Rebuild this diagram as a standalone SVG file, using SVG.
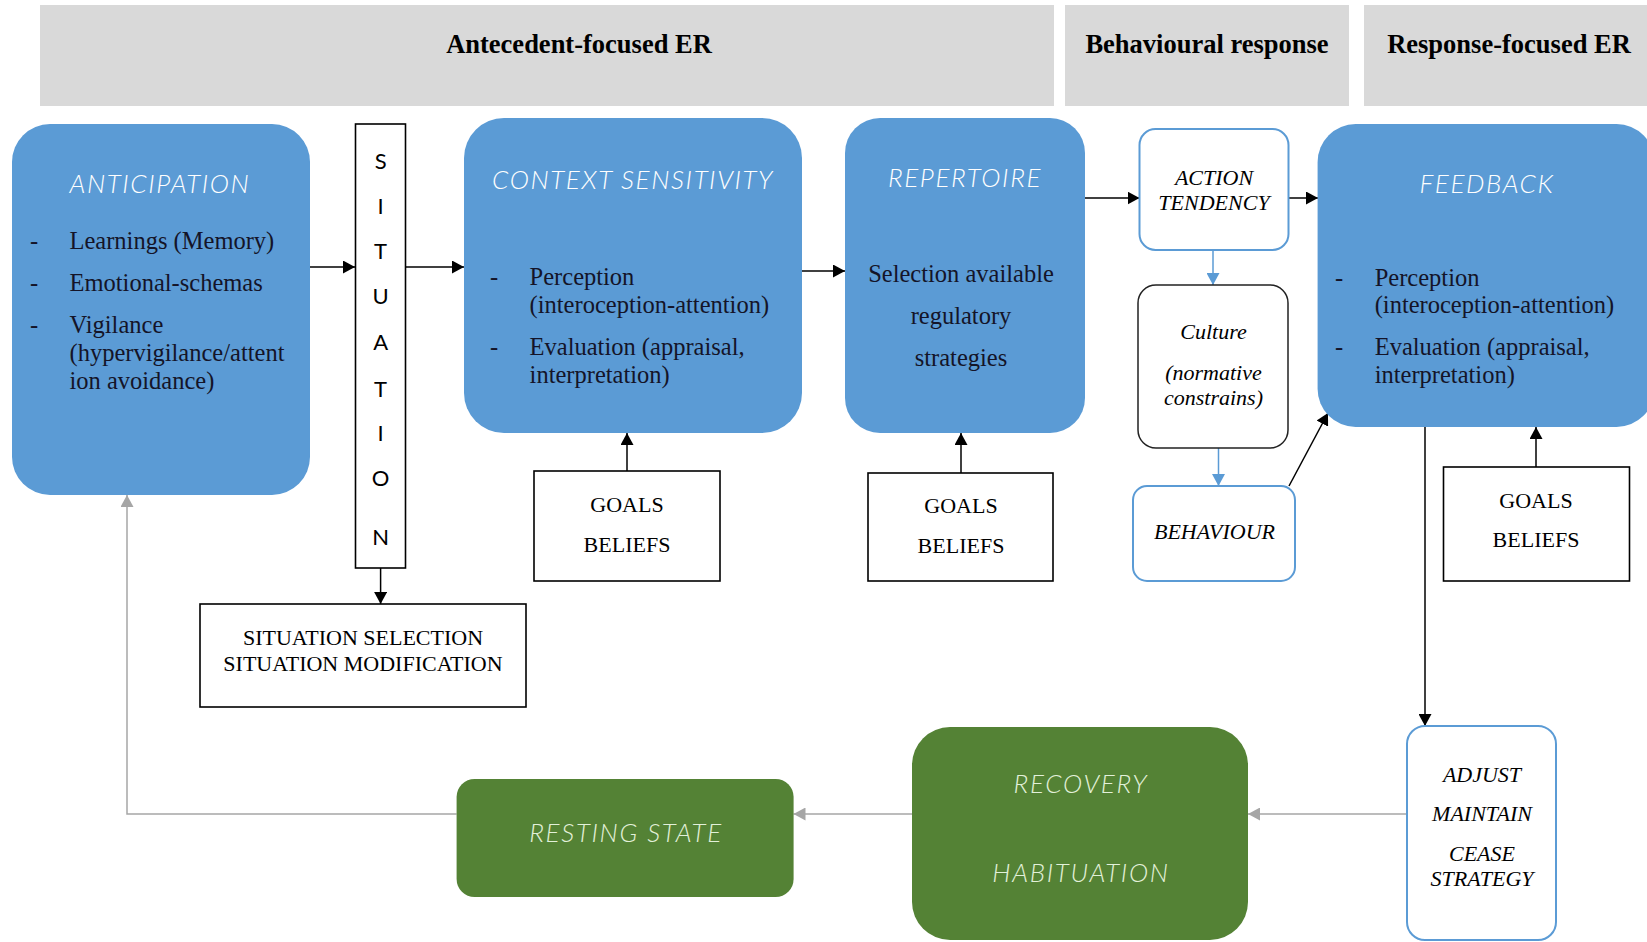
<svg xmlns="http://www.w3.org/2000/svg" width="1647" height="942" viewBox="0 0 1647 942">
<style>
.hdr{fill:#d9d9d9}
.hdrt{font-family:"Liberation Serif",serif;font-weight:bold;font-size:26.5px;fill:#000;text-anchor:middle}
.blue{fill:#5b9bd5}
.green{fill:#548235}
.ttl{font-family:Lato,"Open Sans",sans-serif;font-weight:300;font-style:italic;font-size:26px;letter-spacing:1.6px;fill:#ffffff}
.gttl{font-family:Lato,"Open Sans",sans-serif;font-weight:300;font-style:italic;font-size:26px;letter-spacing:1.7px;fill:#e2f0d9;text-anchor:middle}
.body{font-family:"Liberation Serif",serif;font-size:24.5px;fill:#141428}
.box{fill:#fff;stroke:#000;stroke-width:1.6}
.bbox{fill:#fff;stroke:#5b9bd5;stroke-width:2}
.cbox{fill:#fff;stroke:#222;stroke-width:1.5}
.gb{font-family:"Liberation Serif",serif;font-size:22px;fill:#000;text-anchor:middle}
.it{font-family:"Liberation Serif",serif;font-style:italic;font-size:22px;fill:#000;text-anchor:middle}
.sit{font-family:Lato,"Open Sans",sans-serif;font-size:22px;fill:#000;text-anchor:middle}
.c{fill:none;stroke:#000;stroke-width:1.5}
.cb{fill:none;stroke:#5b9bd5;stroke-width:1.5}
.cg{fill:none;stroke:#a6a6a6;stroke-width:1.5}
</style>
<defs>
<marker id="ab" markerUnits="userSpaceOnUse" markerWidth="13" markerHeight="13" refX="12" refY="6.5" orient="auto"><path d="M0,0 L12,6.5 L0,13 z" fill="#000"/></marker>
<marker id="abl" markerUnits="userSpaceOnUse" markerWidth="13" markerHeight="13" refX="12" refY="6.5" orient="auto"><path d="M0,0 L12,6.5 L0,13 z" fill="#5b9bd5"/></marker>
<marker id="ag" markerUnits="userSpaceOnUse" markerWidth="13" markerHeight="13" refX="12" refY="6.5" orient="auto"><path d="M0,0 L12,6.5 L0,13 z" fill="#a6a6a6"/></marker>
</defs>

<g id="headers">
<rect class="hdr" x="40" y="5" width="1014" height="101"/>
<text class="hdrt" x="579" y="53">Antecedent-focused ER</text>
<rect class="hdr" x="1065" y="5" width="284" height="101"/>
<text class="hdrt" x="1207" y="53">Behavioural response</text>
<rect class="hdr" x="1364" y="5" width="283" height="101"/>
<text class="hdrt" x="1509" y="53">Response-focused ER</text>
</g>

<g id="connectors">
<line class="c" x1="310" y1="267" x2="355" y2="267" marker-end="url(#ab)"/>
<line class="c" x1="406" y1="267" x2="464" y2="267" marker-end="url(#ab)"/>
<line class="c" x1="802" y1="271" x2="845" y2="271" marker-end="url(#ab)"/>
<line class="c" x1="627" y1="471" x2="627" y2="433" marker-end="url(#ab)"/>
<line class="c" x1="961" y1="473" x2="961" y2="433" marker-end="url(#ab)"/>
<line class="c" x1="380.6" y1="568" x2="380.6" y2="604" marker-end="url(#ab)"/>
<line class="c" x1="1085" y1="198" x2="1139.5" y2="198" marker-end="url(#ab)"/>
<line class="c" x1="1289" y1="198" x2="1318" y2="198" marker-end="url(#ab)"/>
<line class="cb" x1="1213" y1="250" x2="1213" y2="285" marker-end="url(#abl)"/>
<line class="cb" x1="1218.5" y1="448" x2="1218.5" y2="486" marker-end="url(#abl)"/>
<line class="c" x1="1289" y1="486" x2="1328" y2="413" marker-end="url(#ab)"/>
<line class="c" x1="1536" y1="467" x2="1536" y2="427" marker-end="url(#ab)"/>
<line class="c" x1="1425" y1="427" x2="1425" y2="726" marker-end="url(#ab)"/>
<line class="cg" x1="1407" y1="814" x2="1248" y2="814" marker-end="url(#ag)"/>
<line class="cg" x1="912" y1="814" x2="793.5" y2="814" marker-end="url(#ag)"/>
<polyline class="cg" points="456.6,814 127,814 127,495" marker-end="url(#ag)"/>
</g>

<g id="anticipation">
<rect class="blue" x="12" y="124" width="298" height="371" rx="38"/>
<text class="ttl" x="69.5" y="193">ANTICIPATION</text>
<text class="body" x="30" y="249">-</text>
<text class="body" x="69.5" y="249">Learnings (Memory)</text>
<text class="body" x="30" y="291">-</text>
<text class="body" x="69.5" y="291">Emotional-schemas</text>
<text class="body" x="30" y="333">-</text>
<text class="body" x="69.5" y="333">Vigilance</text>
<text class="body" x="69.5" y="361">(hypervigilance/attent</text>
<text class="body" x="69.5" y="389">ion avoidance)</text>
</g>

<g id="situation">
<rect class="box" x="355.5" y="124" width="50" height="444"/>
<text class="sit" x="380.6" y="169">S</text>
<text class="sit" x="380.6" y="214">I</text>
<text class="sit" x="380.6" y="259">T</text>
<text class="sit" x="380.6" y="304">U</text>
<text class="sit" x="380.6" y="350">A</text>
<text class="sit" x="380.6" y="397">T</text>
<text class="sit" x="380.6" y="441">I</text>
<text class="sit" x="380.6" y="486">O</text>
<text class="sit" x="380.6" y="545">N</text>
</g>

<g id="situation-selection">
<rect class="box" x="200" y="604" width="326" height="103"/>
<text class="gb" x="363" y="645" font-size="22.6">SITUATION SELECTION</text>
<text class="gb" x="363" y="671" font-size="22.6">SITUATION MODIFICATION</text>
</g>

<g id="context-sensitivity">
<rect class="blue" x="464" y="118" width="338" height="315" rx="40"/>
<text class="ttl" x="633" y="189" text-anchor="middle">CONTEXT SENSITIVITY</text>
<text class="body" x="490" y="285">-</text>
<text class="body" x="529.6" y="285">Perception</text>
<text class="body" x="529.6" y="313">(interoception-attention)</text>
<text class="body" x="490" y="355">-</text>
<text class="body" x="529.6" y="355">Evaluation (appraisal,</text>
<text class="body" x="529.6" y="383">interpretation)</text>
</g>

<g id="goals-1">
<rect class="box" x="534" y="471" width="186" height="110"/>
<text class="gb" x="627" y="512">GOALS</text>
<text class="gb" x="627" y="552">BELIEFS</text>
</g>

<g id="repertoire">
<rect class="blue" x="845" y="118" width="240" height="315" rx="35"/>
<text class="ttl" x="965" y="187" text-anchor="middle">REPERTOIRE</text>
<text class="body" x="961" y="282" text-anchor="middle" font-size="23">Selection available</text>
<text class="body" x="961" y="324" text-anchor="middle" font-size="23">regulatory</text>
<text class="body" x="961" y="366" text-anchor="middle" font-size="23">strategies</text>
</g>

<g id="goals-2">
<rect class="box" x="868" y="473" width="185" height="108"/>
<text class="gb" x="961" y="513">GOALS</text>
<text class="gb" x="961" y="553">BELIEFS</text>
</g>

<g id="action-tendency">
<rect class="bbox" x="1139.5" y="129" width="149" height="121" rx="16"/>
<text class="it" x="1214" y="185">ACTION</text>
<text class="it" x="1214" y="210">TENDENCY</text>
</g>

<g id="culture">
<rect class="cbox" x="1138" y="285" width="150" height="163" rx="18"/>
<text class="it" x="1213.5" y="339">Culture</text>
<text class="it" x="1213.5" y="380">(normative</text>
<text class="it" x="1213.5" y="405">constrains)</text>
</g>

<g id="behaviour">
<rect class="bbox" x="1133" y="486" width="162" height="95" rx="14"/>
<text class="it" x="1214.5" y="539">BEHAVIOUR</text>
</g>

<g id="feedback">
<rect class="blue" x="1317.6" y="124" width="337" height="303" rx="38"/>
<text class="ttl" x="1487" y="193" text-anchor="middle">FEEDBACK</text>
<text class="body" x="1335" y="286">-</text>
<text class="body" x="1374.7" y="286">Perception</text>
<text class="body" x="1374.7" y="313">(interoception-attention)</text>
<text class="body" x="1335" y="355">-</text>
<text class="body" x="1374.7" y="355">Evaluation (appraisal,</text>
<text class="body" x="1374.7" y="383">interpretation)</text>
</g>

<g id="goals-3">
<rect class="box" x="1443.5" y="467" width="186" height="114"/>
<text class="gb" x="1536" y="508">GOALS</text>
<text class="gb" x="1536" y="547">BELIEFS</text>
</g>

<g id="adjust">
<rect class="bbox" x="1407" y="726" width="149" height="214" rx="18"/>
<text class="it" x="1482" y="782">ADJUST</text>
<text class="it" x="1482" y="821">MAINTAIN</text>
<text class="it" x="1482" y="861">CEASE</text>
<text class="it" x="1482" y="886">STRATEGY</text>
</g>

<g id="recovery">
<rect class="green" x="912" y="727" width="336" height="213" rx="38"/>
<text class="gttl" x="1081" y="793">RECOVERY</text>
<text class="gttl" x="1081" y="882">HABITUATION</text>
</g>

<g id="resting-state">
<rect class="green" x="456.6" y="779" width="337" height="118" rx="18"/>
<text class="gttl" x="626" y="842">RESTING STATE</text>
</g>
</svg>
